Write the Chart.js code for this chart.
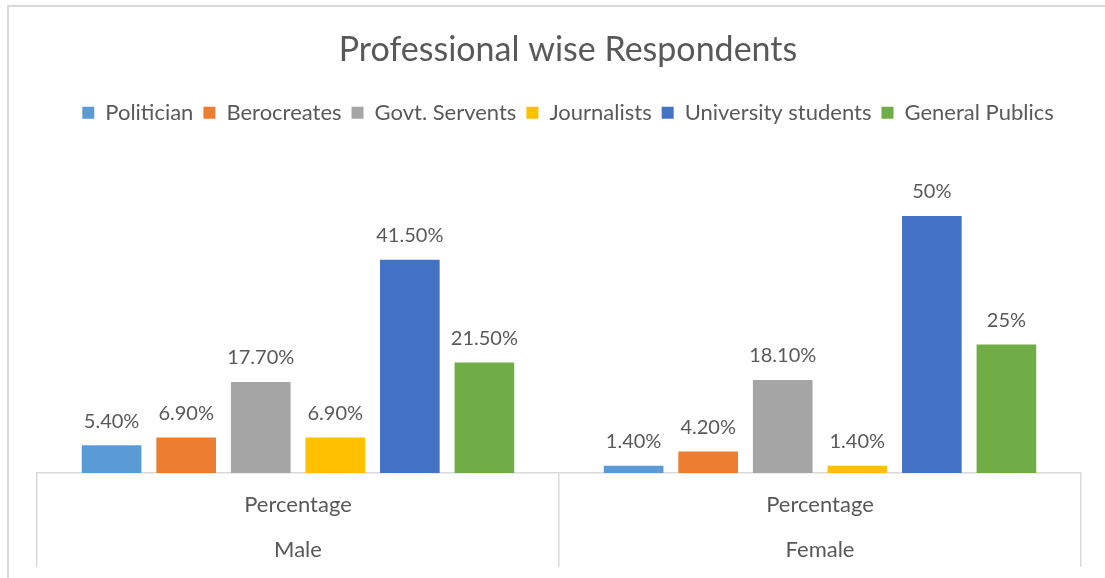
<!DOCTYPE html>
<html>
<head>
<meta charset="utf-8">
<title>Professional wise Respondents</title>
<script src="https://cdn.jsdelivr.net/npm/chart.js@4.4.1/dist/chart.umd.min.js"></script>
<style>
  body { margin: 0; background: #fff; }
  #wrap { width: 1105px; height: 578px; }
</style>
</head>
<body>
<div id="wrap"><canvas id="chart" width="1105" height="578"></canvas></div>
<script>
// respondents by profession, split by gender (percent)
const groups = [["Percentage", "Male"], ["Percentage", "Female"]];
const professions = ["Politician", "Berocreates", "Govt. Servents", "Journalists", "University students", "General Publics"];
const politician = [5.4, 1.4];
const berocreates = [6.9, 4.2];
const govtServents = [17.7, 18.1];
const journalists = [6.9, 1.4];
const universityStudents = [41.5, 50];
const generalPublics = [21.5, 25];
const colors = ["#5B9BD5", "#ED7D31", "#A5A5A5", "#FFC000", "#4472C4", "#70AD47"];

const FONT = "Lato, 'Open Sans', sans-serif";
const GREY = "#595959";

function fmt(v) {
    return Number.isInteger(v) ? v + "%" : v.toFixed(2) + "%";
}

// light frame around the whole chart (left and top edges are visible)
const frame = {
    id: "frame",
    beforeDraw(chart) {
        const ctx = chart.ctx;
        ctx.save();
        ctx.strokeStyle = "#d9d9d9";
        ctx.lineWidth = 2;
        ctx.beginPath();
        ctx.moveTo(8, chart.height);
        ctx.lineTo(8, 6);
        ctx.lineTo(chart.width, 6);
        ctx.stroke();
        ctx.restore();
    }
};

// value labels above each bar
const valueLabels = {
    id: "valueLabels",
    afterDatasetsDraw(chart) {
        const ctx = chart.ctx;
        ctx.save();
        ctx.font = "20px " + FONT;
        ctx.fillStyle = GREY;
        ctx.textAlign = "center";
        ctx.textBaseline = "middle";
        chart.data.datasets.forEach((ds, i) => {
            chart.getDatasetMeta(i).data.forEach((bar, j) => {
                ctx.fillText(fmt(ds.data[j]), bar.x, bar.y - 24);
            });
        });
        ctx.restore();
    }
};

const series = [politician, berocreates, govtServents, journalists, universityStudents, generalPublics];

new Chart(document.getElementById("chart"), {
    type: "bar",
    data: {
        labels: groups,
        datasets: professions.map((name, i) => ({
            label: name,
            data: series[i],
            backgroundColor: colors[i],
            borderWidth: 0,
            categoryPercentage: 0.857,
            barPercentage: 0.8
        }))
    },
    options: {
        responsive: false,
        animation: false,
        layout: { padding: { left: 37, right: 6, top: 6, bottom: 11 } },
        plugins: {
            title: {
                display: true,
                text: "Professional wise Respondents",
                color: GREY,
                font: { family: FONT, size: 34, weight: "normal" },
                padding: { top: 24, bottom: 21 }
            },
            legend: {
                position: "top",
                labels: {
                    color: GREY,
                    font: { family: FONT, size: 22 },
                    boxWidth: 12,
                    boxHeight: 12,
                    padding: 10
                }
            },
            tooltip: { enabled: false }
        },
        scales: {
            x: {
                offset: true,
                grid: {
                    offset: true,
                    drawOnChartArea: false,
                    drawTicks: true,
                    tickLength: 94,
                    color: "#d9d9d9",
                    lineWidth: 1.5
                },
                border: { display: true, color: "#d9d9d9", width: 1.5 },
                ticks: {
                    color: GREY,
                    font: { family: FONT, size: 22, lineHeight: "45px" },
                    padding: -84.5,
                    maxRotation: 0,
                    autoSkip: false
                },
                afterFit(scale) { scale.height = 94; }
            },
            y: {
                display: false,
                min: 0,
                max: 66
            },
            // empty right-hand strip so the plot ends short of the frame
            side: {
                position: "right",
                display: true,
                grid: { display: false },
                border: { display: false },
                ticks: { display: false },
                afterFit(scale) { scale.width = 18; }
            }
        }
    },
    plugins: [frame, valueLabels]
});
</script>
</body>
</html>
